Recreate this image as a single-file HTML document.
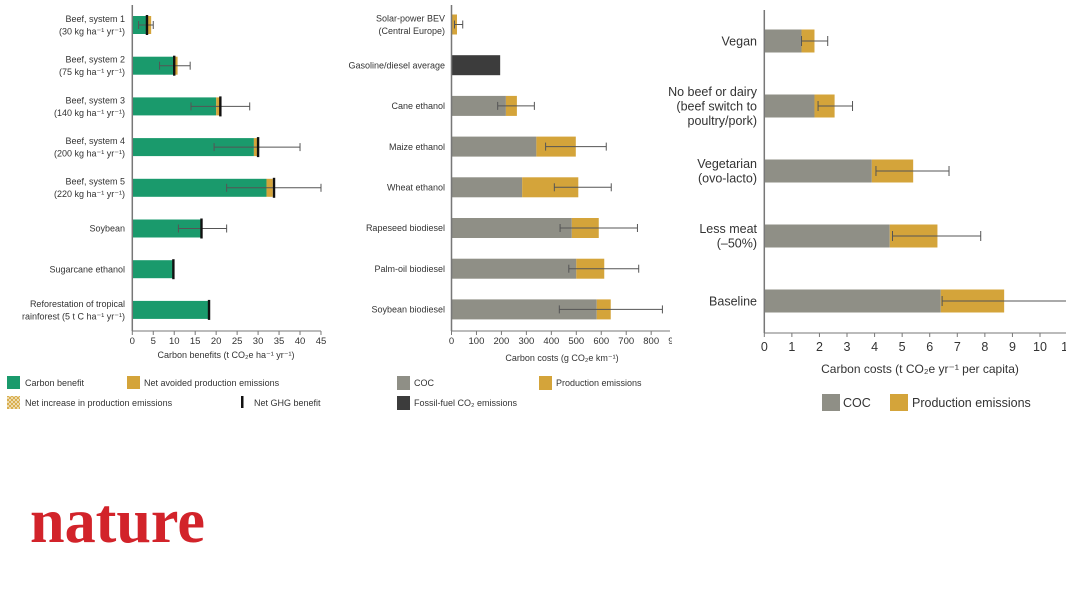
<!DOCTYPE html>
<html><head><meta charset="utf-8"><style>
html,body{margin:0;padding:0;background:#fff;}
svg{display:block;font-family:"Liberation Sans",sans-serif;}
</style></head><body>
<svg id="fig" width="1066" height="600" viewBox="0 0 1066 600">
<text x="30" y="542" font-family="Liberation Serif,serif" font-weight="bold" font-size="64" fill="#d2232a" textLength="175" lengthAdjust="spacingAndGlyphs">nature</text>
</svg>
<script>
// Panel A: carbon benefits
const aCats=[["Beef, system 1","(30 kg ha⁻¹ yr⁻¹)"],["Beef, system 2","(75 kg ha⁻¹ yr⁻¹)"],["Beef, system 3","(140 kg ha⁻¹ yr⁻¹)"],["Beef, system 4","(200 kg ha⁻¹ yr⁻¹)"],["Beef, system 5","(220 kg ha⁻¹ yr⁻¹)"],["Soybean"],["Sugarcane ethanol"],["Reforestation of tropical","rainforest (5 t C ha⁻¹ yr⁻¹)"]];
const aGreen=[3.5,10,20,29,32,16.5,9.8,18.3];
const aTotal=[4.5,10.8,20.8,29.8,33.5,16.5,9.8,18.3];
const aNet=[3.5,10,21,30,33.8,16.5,9.8,18.3];
const aErrLo=[1.5,6.5,14,19.5,22.5,11,null,null];
const aErrHi=[5,13.8,28,40,45,22.5,null,null];
const aTicks=[0,5,10,15,20,25,30,35,40,45];
// Panel B: transport
const bCats=[["Solar-power BEV","(Central Europe)"],["Gasoline/diesel average"],["Cane ethanol"],["Maize ethanol"],["Wheat ethanol"],["Rapeseed biodiesel"],["Palm-oil biodiesel"],["Soybean biodiesel"]];
const bCoc=[0,0,218,340,283,482,500,582];
const bProd=[22,0,44,158,225,108,112,56];
const bFossil=[0,195,0,0,0,0,0,0];
const bErrLo=[12,null,185,377,412,435,470,432];
const bErrHi=[45,null,332,620,640,745,750,845];
const bTicks=[0,100,200,300,400,500,600,700,800,900];
// Panel C: diets
const cCats=[["Vegan"],["No beef or dairy","(beef switch to","poultry/pork)"],["Vegetarian","(ovo-lacto)"],["Less meat","(–50%)"],["Baseline"]];
const cCoc=[1.35,1.82,3.9,4.55,6.4];
const cProd=[0.47,0.73,1.5,1.73,2.3];
const cErrLo=[1.35,1.95,4.05,4.65,6.45];
const cErrHi=[2.3,3.2,6.7,7.85,11];
const cTicks=[0,1,2,3,4,5,6,7,8,9,10,11];

const NS="http://www.w3.org/2000/svg";
const svg=document.getElementById('fig');
const GREEN="#1a9a6c",YEL="#d4a43a",GREY="#8f8f86",DARK="#3c3c3c",AX="#777";
function el(t,a,p){const e=document.createElementNS(NS,t);for(const k in a)e.setAttribute(k,a[k]);(p||svg).appendChild(e);return e;}
function txt(x,y,s,fs,anchor,p){const e=el('text',{x:x,y:y,'font-size':fs,'text-anchor':anchor||'start',fill:'#333'},p);e.textContent=s;return e;}

function axis(g,x0,scale,top,bottom,ticks,fs,tickY,clipRight){
  const ax=el('line',{x1:x0,y1:top,x2:x0,y2:bottom,stroke:AX,'stroke-width':1.5},g);
  
  
  const xr=Math.min(scale(ticks[ticks.length-1]),clipRight);
  const bl=el('line',{x1:x0,y1:bottom,x2:xr,y2:bottom,stroke:AX,'stroke-width':1},g);
  
  
  ticks.forEach(v=>{const x=scale(v);if(x>clipRight+8)return;
    el('line',{x1:x,y1:bottom,x2:x,y2:bottom+4,stroke:AX},g);
    const t=txt(x,tickY,String(v),fs,'middle',g);
    
    });
}
function errbar(g,sx,lo,hi,cy,cap){
  const e=el('g',{stroke:'#555','stroke-width':1},g);
  
  
  el('line',{x1:sx(lo),y1:cy,x2:sx(hi),y2:cy},e);
  el('line',{x1:sx(lo),y1:cy-cap,x2:sx(lo),y2:cy+cap},e);
  el('line',{x1:sx(hi),y1:cy-cap,x2:sx(hi),y2:cy+cap},e);
}
function catLabel(g,lines,x,cy,fs,lh){
  const n=lines.length;const t=el('text',{'font-size':fs,'text-anchor':'end',fill:'#333'},g);
  
  
  lines.forEach((s,i)=>{const ts=el('tspan',{x:x,y:cy+(i-(n-1)/2)*lh+fs*0.35},t);ts.textContent=s;});
}
const defs=el('defs',{});
const cp=el('clipPath',{id:'clipC'},defs);el('rect',{x:0,y:0,width:1066,height:600},cp);
const cpb=el('clipPath',{id:'clipB'},defs);el('rect',{x:300,y:0,width:372,height:600},cpb);
const pat=el('pattern',{id:'hatch',width:4,height:4,patternUnits:'userSpaceOnUse'},defs);
el('rect',{width:4,height:4,fill:'#f3e6c4'},pat);el('path',{d:'M0,0L4,4M4,0L0,4',stroke:YEL,'stroke-width':0.8},pat);

// ---- Panel A ----
(function(){
  const g=el('g',{});
  const x0=132.3,k=4.193,sx=v=>x0+v*k;const top=5,bottom=331,step=40.7,first=25,h=18;
  aCats.forEach((c,i)=>{const cy=first+i*step;
    catLabel(g,c,125,cy,9,12.5);
    const r=el('rect',{x:sx(0),y:cy-h/2,width:sx(aGreen[i])-sx(0),height:h,fill:GREEN},g);
    
    if(aTotal[i]>aGreen[i]){const y=el('rect',{x:sx(aGreen[i]),y:cy-h/2,width:sx(aTotal[i])-sx(aGreen[i]),height:h,fill:YEL},g);
      }
    if(aErrLo[i]!==null)errbar(g,sx,aErrLo[i],aErrHi[i],cy,4);
    const n=el('rect',{x:sx(aNet[i])-1.2,y:cy-h/2-1,width:2.4,height:h+2,fill:'#111'},g);
    
  });
  axis(g,x0,sx,top,bottom,aTicks,9.5,344,400);
  const t=txt(226,358,'Carbon benefits (t CO₂e ha⁻¹ yr⁻¹)',9,'middle',g);
  const L=[[7,376,GREEN,'Carbon benefit',25],[127,376,YEL,'Net avoided production emissions',144]];
  L.forEach(l=>{const r=el('rect',{x:l[0],y:l[1],width:13,height:13,fill:l[2]},g);
    const tt=txt(l[4],l[1]+10,l[3],9,'start',g);});
  const hs=el('rect',{x:7,y:396,width:13,height:13,fill:'url(#hatch)'},g);
  let tt=txt(25,406,'Net increase in production emissions',9,'start',g);
  const nb=el('rect',{x:241,y:396,width:2.5,height:12,fill:'#111'},g);
  tt=txt(254,406,'Net GHG benefit',9,'start',g);
})();

// ---- Panel B ----
(function(){
  const g=el('g',{'clip-path':'url(#clipB)'});
  const x0=451.5,k=0.2496,sx=v=>x0+v*k;const top=5,bottom=331,step=40.7,first=24.5,h=20;
  bCats.forEach((c,i)=>{const cy=first+i*step;
    catLabel(g,c,445,cy,9,12.5);
    if(bCoc[i]>0){const r=el('rect',{x:sx(0),y:cy-h/2,width:sx(bCoc[i])-sx(0),height:h,fill:GREY},g);}
    if(bProd[i]>0){const r=el('rect',{x:sx(bCoc[i]),y:cy-h/2,width:sx(bCoc[i]+bProd[i])-sx(bCoc[i]),height:h,fill:YEL},g);}
    if(bFossil[i]>0){const r=el('rect',{x:sx(0),y:cy-h/2,width:sx(bFossil[i])-sx(0),height:h,fill:DARK},g);}
    if(bErrLo[i]!==null)errbar(g,sx,bErrLo[i],bErrHi[i],cy,4);
  });
  axis(g,x0,sx,top,bottom,bTicks,9.5,344,670);
  const t=txt(562,361,'Carbon costs (g CO₂e km⁻¹)',9,'middle',g);
  const L=[[397,376,GREY,'COC',414],[539,376,YEL,'Production emissions',556],[397,396,DARK,'Fossil-fuel CO₂ emissions',414]];
  L.forEach(l=>{const r=el('rect',{x:l[0],y:l[1],width:13,height:14,fill:l[2]},g);
    const tt=txt(l[4],l[1]+10,l[3],9,'start',g);});
})();

// ---- Panel C ----
(function(){
  const g=el('g',{'clip-path':'url(#clipC)'});
  const x0=764.3,k=27.57,sx=v=>x0+v*k;const top=10,bottom=333,step=65,first=41,h=23;
  cCats.forEach((c,i)=>{const cy=first+i*step;
    catLabel(g,c,757,cy,12.5,14.5);
    const r=el('rect',{x:sx(0),y:cy-h/2,width:sx(cCoc[i])-sx(0),height:h,fill:GREY},g);
    const y=el('rect',{x:sx(cCoc[i]),y:cy-h/2,width:sx(cCoc[i]+cProd[i])-sx(cCoc[i]),height:h,fill:YEL},g);
    errbar(g,sx,cErrLo[i],cErrHi[i],cy,5);
  });
  axis(g,x0,sx,top,bottom,cTicks,12.5,351,1066);
  const t=txt(920,373,'Carbon costs (t CO₂e yr⁻¹ per capita)',12,'middle',g);
  const L=[[822,394,GREY,'COC',843],[890,394,YEL,'Production emissions',912]];
  L.forEach(l=>{const r=el('rect',{x:l[0],y:l[1],width:18,height:17,fill:l[2]},g);
    const tt=txt(l[4],l[1]+13,l[3],12.5,'start',g);});
})();
</script>
</body></html>
